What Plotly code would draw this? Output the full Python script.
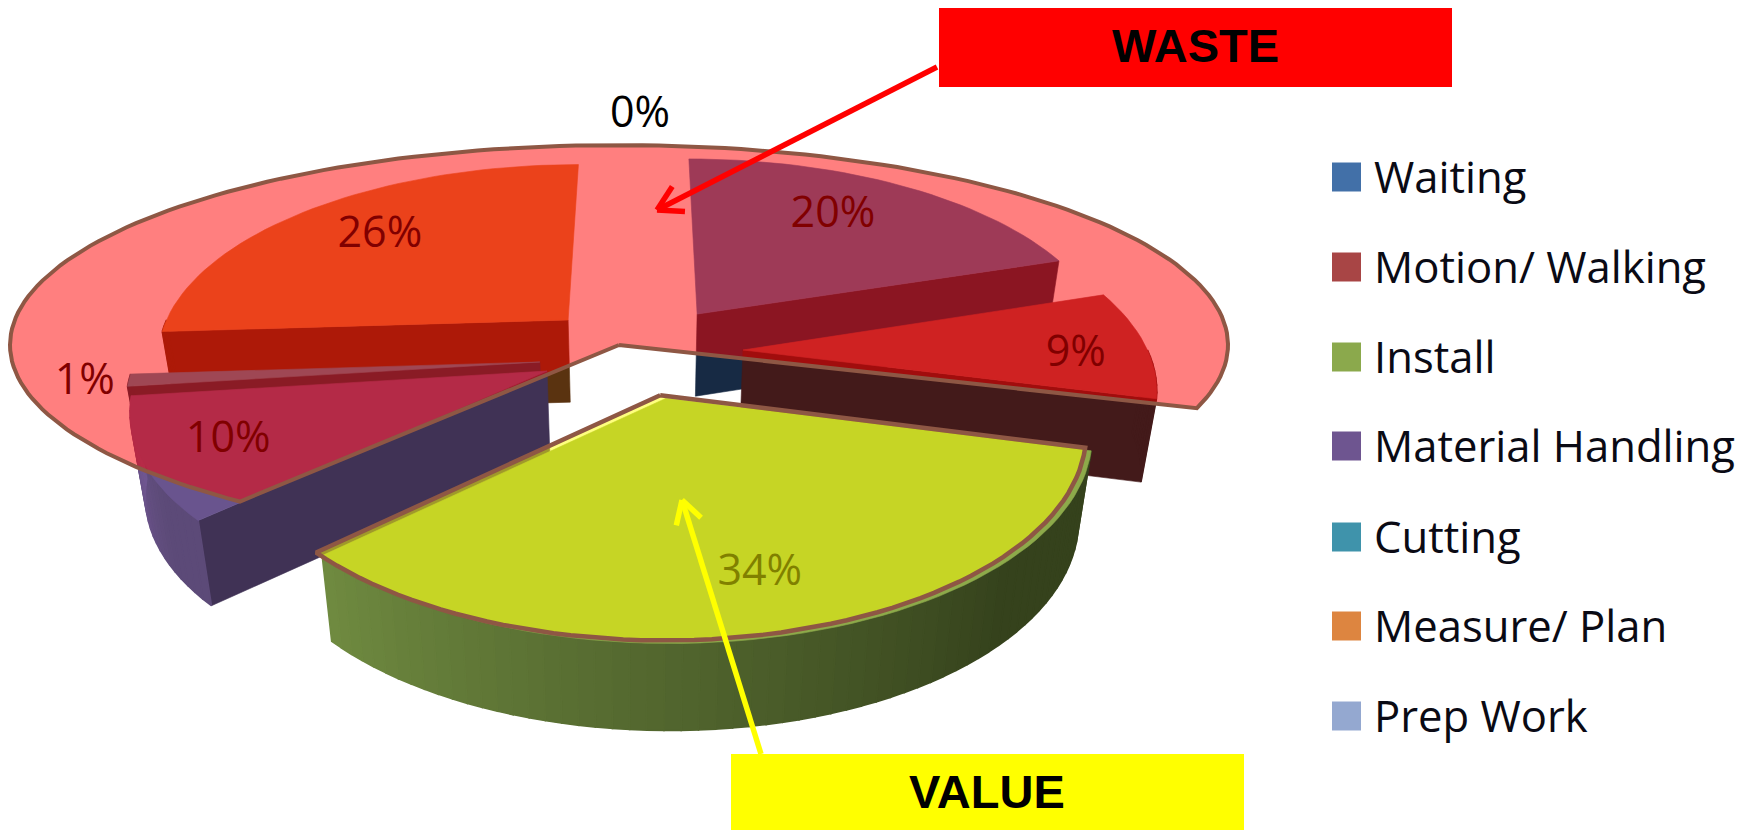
import math
import plotly.graph_objects as go

# ---------- data ----------
categories = ["Waiting", "Motion/ Walking", "Install", "Material Handling", "Cutting", "Measure/ Plan", "Prep Work"]
shares = [20, 9, 34, 10, 1, 26, 0]
labels = ["20%", "9%", "34%", "10%", "1%", "26%", "0%"]

# ---------- styles ----------
top_colors = ["#3D74AE", "#9F4444", "#8DAA4A", "#69548E", "#3E8FA8", "#D78436", "#94A8D0"]
face_colors = ["#172A44", "#431A1A", "#39451D", "#403255", "#15364B", "#5A3310", "#404A60"]
legend_colors = ["#4270A8", "#A84545", "#8BA94C", "#6E5590", "#3F93AB", "#DD8540", "#94A8D0"]
wall_from = ["#172A44", "#431A1A", "#6F8A40", "#6F5690", "#15364B", "#5A3310", "#404A60"]
wall_to = ["#172A44", "#431A1A", "#35421C", "#5C4A78", "#15364B", "#5A3310", "#404A60"]
label_colors = ["#000000"] * 7

# ---------- 3D pie geometry (ground plane -> page) ----------
CX, CY, AX, BY, PERSP = 640, 348, 412, 191, 0.172
explode_x = [0.143, 0.2495, 0.047, -0.221, -0.24, -0.179, 0.0]
explode_y = [0.183, -0.0105, -0.237, -0.118, -0.0724, 0.1504, 0.0]
radius = [1.01, 0.98, 0.975, 0.97, 0.97, 1.0, 1.0]
label_r = [0.747, 0.8065, 0.755, 0.77, 1.075, 0.75, 1.578]
label_da = [-4.4, 1.8, -0.6, 1.5, 1.1, 2.2, 0.0]
draw_order = [5, 0, 1, 4, 3, 2]
solid_shift = {2: (6, 3)}
LABEL_DROP = 5
LABEL_FONT = "Open Sans"


def project(X, Y):
    w = 1 + PERSP * Y
    return CX + AX * X / w, CY - BY * Y / w


def lower(px, py):
    return CX + (px - CX) * 0.97, py + 82 + 0.015 * (py - 310)


def hex_mix(a, b, t):
    ca = [int(a[i:i + 2], 16) for i in (1, 3, 5)]
    cb = [int(b[i:i + 2], 16) for i in (1, 3, 5)]
    return "#%02x%02x%02x" % tuple(round(u + (v - u) * t) for u, v in zip(ca, cb))


def poly(fig, pts, color, name, line=None):
    fig.add_trace(go.Scatter(
        x=[p[0] for p in pts] + [pts[0][0]],
        y=[p[1] for p in pts] + [pts[0][1]],
        mode="lines", fill="toself", fillcolor=color,
        line=line or dict(color=color, width=0.6),
        name=name, hoverinfo="name", showlegend=False))


fig = go.Figure()

edges = [0]
for s in shares:
    edges.append(edges[-1] + s * 3.6)


def rim(i, deg, sx=0, sy=0):
    t = math.radians(deg)
    return tuple(a + b for a, b in zip(
        project(explode_x[i] + radius[i] * math.sin(t), explode_y[i] + radius[i] * math.cos(t)), (sx, sy)))


overlay_value = None
for i in draw_order:
    a0, a1 = edges[i], edges[i + 1]
    sx, sy = solid_shift.get(i, (0, 0))
    ax_, ay_ = project(explode_x[i], explode_y[i])
    apex = (ax_ + sx, ay_ + sy)
    # visible cut faces
    for deg, visible in ((a0, math.sin(math.radians(a0)) < -1e-6), (a1, math.sin(math.radians(a1)) > 1e-6)):
        if visible:
            r = rim(i, deg, sx, sy)
            poly(fig, [apex, r, lower(*r), lower(*apex)], face_colors[i], categories[i])
    # visible outer wall as gradient strips
    lo, hi = max(a0, 90), min(a1, 270)
    if hi > lo:
        n = max(2, int((hi - lo) / 2))
        for k in range(n):
            d0 = lo + (hi - lo) * k / n
            d1 = lo + (hi - lo) * (k + 1) / n
            r0, r1 = rim(i, d0, sx, sy), rim(i, d1, sx, sy)
            # left side of the page is the lit side; dark from about three quarters along
            f = 1 - k / max(1, n - 1)
            col = hex_mix(wall_from[i], wall_to[i], min(1, f / 0.75))
            poly(fig, [r0, r1, lower(*r1), lower(*r0)], col, categories[i],
                 line=dict(color=col, width=1.6))
    # top surface
    steps = max(2, int((a1 - a0) / 2))
    arc = [rim(i, a0 + (a1 - a0) * k / steps, sx, sy) for k in range(steps + 1)]
    poly(fig, [apex] + arc, top_colors[i], categories[i])
    if i == 2:
        overlay_value = [(ax_, ay_)] + [(p[0] - sx, p[1] - sy) for p in arc]

# data labels (under the highlight overlays)
lx, ly, lc = [], [], []
for i, s in enumerate(shares):
    mid = (edges[i] + edges[i + 1]) / 2 + label_da[i]
    t = math.radians(mid)
    p = project(explode_x[i] + label_r[i] * math.sin(t), explode_y[i] + label_r[i] * math.cos(t))
    lx.append(p[0]); ly.append(p[1] + LABEL_DROP); lc.append(label_colors[i])
fig.add_trace(go.Scatter(x=lx, y=ly, mode="text", text=labels,
                         textposition="middle center",
                         textfont=dict(family=LABEL_FONT, size=43, color=lc),
                         hoverinfo="skip", showlegend=False))

# highlight overlays
BROWN = "#8E5744"
poly(fig, overlay_value, "rgba(255,255,0,0.5)", "VALUE", line=dict(color=BROWN, width=4.5))

W_CX, W_CY, W_RX, W_RY = 619, 345, 609, 200
w_from, w_to = 218.5, 108.4 + 360
waste = [(W_CX, W_CY)]
for k in range(161):
    t = math.radians(w_from + (w_to - w_from) * k / 160)
    waste.append((W_CX + W_RX * math.sin(t), W_CY - W_RY * math.cos(t)))
poly(fig, waste, "rgba(255,0,0,0.5)", "WASTE", line=dict(color=BROWN, width=4))


def arrow(x0, y0, x1, y1, color, width, barb):
    ang = math.atan2(y1 - y0, x1 - x0)
    xs = [x0, x1, None]
    ys = [y0, y1, None]
    for d in (2.62, -2.62):
        xs += [x1 + barb * math.cos(ang + d), x1, None]
        ys += [y1 + barb * math.sin(ang + d), y1, None]
    fig.add_trace(go.Scatter(x=xs, y=ys, mode="lines", line=dict(color=color, width=width),
                             hoverinfo="skip", showlegend=False))


arrow(937, 67, 657, 210, "#FF0000", 5.5, 28)
arrow(761, 754, 682, 500, "#FFFF00", 5.5, 26)

shapes = [
    dict(type="rect", x0=939, y0=8, x1=1452, y1=87, fillcolor="#FF0000", line_width=0),
    dict(type="rect", x0=731, y0=754, x1=1244, y1=830, fillcolor="#FFFF00", line_width=0),
]
annots = [
    dict(x=1195, y=45, text="<b>WASTE</b>", showarrow=False,
         font=dict(family="Liberation Sans", size=47, color="black")),
    dict(x=987, y=791, text="<b>VALUE</b>", showarrow=False,
         font=dict(family="Liberation Sans", size=47, color="black")),
]
legend_y = [177, 267, 357, 446, 537, 626, 716]
for name, col, y in zip(categories, legend_colors, legend_y):
    shapes.append(dict(type="rect", x0=1332, x1=1361, y0=y - 14.5, y1=y + 14.5, fillcolor=col, line_width=0))
    annots.append(dict(x=1372, y=y - 1, text=name, xanchor="left", showarrow=False,
                       font=dict(family=LABEL_FONT, size=43.6, color="#0A0A14")))

fig.update_layout(
    width=1754, height=830, margin=dict(l=0, r=0, t=0, b=0),
    paper_bgcolor="white", plot_bgcolor="white", showlegend=False,
    xaxis=dict(range=[0, 1754], visible=False, fixedrange=True),
    yaxis=dict(range=[830, 0], visible=False, fixedrange=True),
    shapes=shapes, annotations=annots)
fig.write_html("out.html", config=dict(displayModeBar=False),
               post_script="document.body.style.margin='0';document.body.style.overflow='hidden';")
